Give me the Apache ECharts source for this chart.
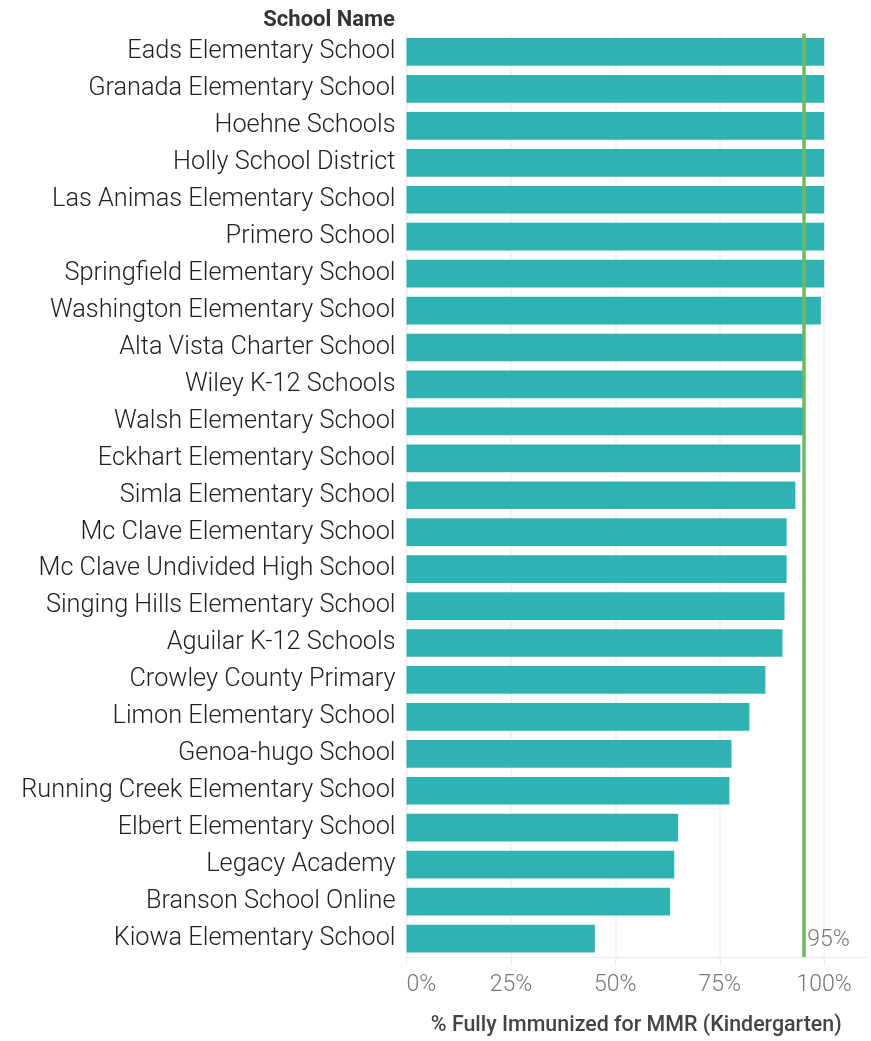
<!DOCTYPE html>
<html><head><meta charset="utf-8">
<script src="https://cdn.jsdelivr.net/npm/echarts@6/dist/echarts.min.js"></script>
<style>html,body{margin:0;padding:0;background:#fff}#c{width:871px;height:1041px}</style>
</head><body><div id="c"></div>
<script>
const schools = [
  "Eads Elementary School","Granada Elementary School","Hoehne Schools","Holly School District",
  "Las Animas Elementary School","Primero School","Springfield Elementary School","Washington Elementary School",
  "Alta Vista Charter School","Wiley K-12 Schools","Walsh Elementary School","Eckhart Elementary School",
  "Simla Elementary School","Mc Clave Elementary School","Mc Clave Undivided High School","Singing Hills Elementary School",
  "Aguilar K-12 Schools","Crowley County Primary","Limon Elementary School","Genoa-hugo School",
  "Running Creek Elementary School","Elbert Elementary School","Legacy Academy","Branson School Online",
  "Kiowa Elementary School"
];
const pctImmunized = [100,100,100,100,100,100,100,99.2,95,95,95,94.3,93.1,91,91,90.5,90,85.9,82.1,77.8,77.3,65,64.1,63.1,45.1];
const targetPct = 95;
const xTicks = [0,25,50,75,100];

const chart = echarts.init(document.getElementById('c'), null, {renderer:'canvas'});
const F = 'Roboto';
chart.setOption({
  animation:false,
  title:{text:'School Name', right:471, top:4, textStyle:{fontFamily:F, fontSize:22, fontWeight:'bold', color:'#333'}},
  grid:{left:406.5, right:5, top:33.5, bottom:81.5, containLabel:false},
  xAxis:{
    type:'value', min:0, max:110, interval:25,
    axisLine:{show:true, lineStyle:{color:'#ececec', width:1}},
    axisTick:{show:true, length:9, lineStyle:{color:['#eeeeee','#eeeeee','#eeeeee','#eeeeee','#eeeeee','rgba(0,0,0,0)']}},
    splitLine:{show:true, lineStyle:{color:['#f0f0f0','#f0f0f0','#f0f0f0','#f0f0f0','#f0f0f0','rgba(0,0,0,0)'], width:1.5}},
    axisLabel:{margin:17, fontFamily:F, fontSize:23, fontWeight:300, color:'#777',
      formatter:v=>xTicks.indexOf(v)>=0? v+'%':'', alignMinLabel:'left', showMaxLabel:false},
    name:'% Fully Immunized for MMR (Kindergarten)', nameLocation:'middle', nameGap:58,
    nameTextStyle:{fontFamily:F, fontSize:21.4, fontWeight:500, color:'#444'}
  },
  yAxis:{
    type:'category', data:schools, inverse:true,
    axisLine:{show:true, lineStyle:{color:'#ececec'}},
    axisTick:{show:false}, splitLine:{show:false},
    axisLabel:{margin:11, fontFamily:F, fontSize:25.3, fontWeight:300, color:'#222', padding:[0,0,2,0]}
  },
  series:[{
    type:'bar', data:pctImmunized, barCategoryGap:'25%',
    itemStyle:{color:'#2fb2b2'},
    markLine:{silent:true, symbol:['none','none'], label:{show:false},
      lineStyle:{color:'#6db964', width:3.5, type:'solid'}, data:[{xAxis:targetPct}]},
    markPoint:{symbol:'circle', symbolSize:0,
      data:[{coord:[targetPct, schools[schools.length-1]], value:targetPct}],
      label:{show:true, position:'right', distance:4, offset:[0,2], formatter:'95%', fontFamily:F, fontSize:23, fontWeight:300, color:'#777'}}
  }]
});
</script></body></html>
